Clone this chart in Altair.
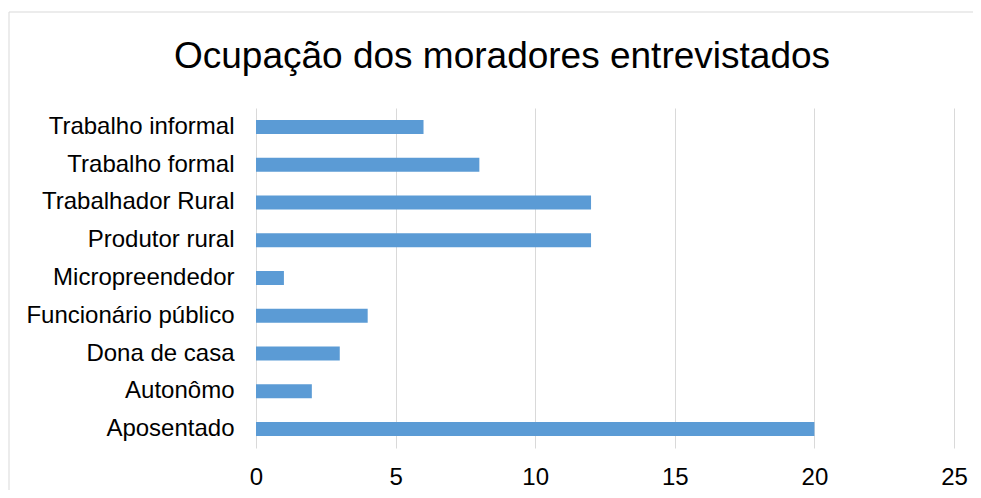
import altair as alt
import pandas as pd

categories = ["Trabalho informal", "Trabalho formal", "Trabalhador Rural", "Produtor rural",
              "Micropreendedor", "Funcionário público", "Dona de casa", "Autonômo", "Aposentado"]
values = [6, 8, 12, 12, 1, 4, 3, 2, 20]
x_ticks = [0, 5, 10, 15, 20, 25]
title_text = "Ocupação dos moradores entrevistados"

df = pd.DataFrame({"cat": categories, "val": values})

font = "Liberation Sans"

border = alt.Chart(pd.DataFrame({"a": [0]})).mark_rect(
    fill=None, stroke="#d9d9d9", strokeWidth=1
).encode(
    x=alt.value(-247), x2=alt.value(760), y=alt.value(-96), y2=alt.value(400)
)

title = alt.Chart(pd.DataFrame({"t": [title_text]})).mark_text(
    font=font, fontSize=37, color="#000000", align="center", baseline="alphabetic"
).encode(
    text="t:N", x=alt.value(246), y=alt.value(-40)
)

bars = alt.Chart(df).mark_bar(size=14, color="#5b9bd5").encode(
    x=alt.X("val:Q", scale=alt.Scale(domain=[0, 25], nice=False),
            axis=alt.Axis(values=x_ticks, title=None, grid=True, gridColor="#d9d9d9",
                          ticks=False, domain=False, labelFontSize=24, labelFont=font,
                          labelColor="#000000", labelPadding=17, labelFlush=False)),
    y=alt.Y("cat:N", sort=categories,
            axis=alt.Axis(title=None, ticks=False, domain=False, labelFontSize=24,
                          labelFont=font, labelColor="#000000", labelPadding=22,
                          labelLimit=400))
)

chart = alt.layer(border, title, bars).properties(
    width=698, height=340,
    autosize=alt.AutoSizeParams(type="none"),
    padding={"left": 248, "top": 100, "right": 19, "bottom": 42}
).configure_view(stroke=None)

chart.save("out.html", embed_options={"renderer": "svg", "actions": False})
